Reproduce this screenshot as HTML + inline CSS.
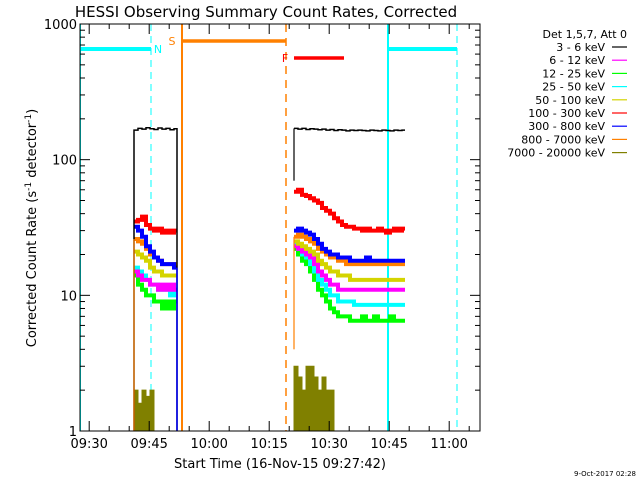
<!DOCTYPE html>
<html><head><meta charset="utf-8"><style>
body{margin:0;background:#fff}
svg{display:block;font-family:"DejaVu Sans","Liberation Sans",sans-serif}
</style></head><body>
<svg id="chart" width="640" height="480" viewBox="0 0 640 480" xmlns="http://www.w3.org/2000/svg">
<rect width="640" height="480" fill="#fff"/>
<text x="266" y="17" text-anchor="middle" font-size="15">HESSI Observing Summary Count Rates, Corrected</text>
<g id="grid"></g>
<g id="marks"></g>
<g id="axes"></g>
<g id="legend"></g>
<text x="280" y="468" text-anchor="middle" font-size="13">Start Time (16-Nov-15 09:27:42)</text>
<text transform="translate(36,228) rotate(-90)" text-anchor="middle" font-size="13">Corrected Count Rate (s<tspan dy="-5" font-size="9">-1</tspan><tspan dy="5"> detector</tspan><tspan dy="-5" font-size="9">-1</tspan><tspan dy="5">)</tspan></text>
<text x="636" y="476" text-anchor="end" font-size="7">9-Oct-2017 02:28</text>
</svg>
<script>
// time in minutes since 09:27:42
const seg1T = [13.5,14.5,15.5,16.5,17.5,18.5,19.5,20.5,21.5,22.5,23.5];
const seg1End = 24.25;
const seg2T = [53.5,54.5,55.5,56.5,57.5,58.5,59.5,60.5,61.5,62.5,63.5,64.5,65.5,66.5,67.5,68.5,69.5,70.5,71.5,72.5,73.5,74.5,75.5,76.5,77.5,78.5,79.5,80.5];
const seg2End = 81.25;
const seriesNames = ["3 - 6 keV","6 - 12 keV","12 - 25 keV","25 - 50 keV","50 - 100 keV","100 - 300 keV","300 - 800 keV","800 - 7000 keV","7000 - 20000 keV"];
const seriesColors = ["#000000","#ff00ff","#00ff00","#00ffff","#d4d400","#ff0000","#0000ff","#ff8000","#808000"];
const s1Black = [165,170,168,172,169,167,171,168,170,166,169];
const s1Mag = [15,14,13,13,12,12,11,12,11,12,11];
const s1Green = [14,12,11,10,10,9,9,8,9,8,9];
const s1Cyan = [16,15,14,13,12,12,11,11,11,10,11];
const s1Yellow = [21,20,19,18,16,15,15,14,14,14,14];
const s1Red = [35,36,38,33,31,30,31,29,30,29,30];
const s1Blue = [32,30,27,23,21,19,18,17,17,17,16];
const s1Orange = [26,25,24,22,20,19,18,17,17,17,17];
const s1Olive = [2,1.6,2,1.8,2,0.5,0.5,0.5,0.5,0.5,0.5];
const s2Black = [170,168,170,167,169,168,166,168,165,167,164,166,165,163,165,164,165,164,163,165,164,163,165,164,163,165,164,165];
const s2Mag = [23,22,21,20,19,17,15,14,13,12,12,11,11,11,11,11,11,11,11,11,11,11,11,11,11,11,11,11];
const s2Green = [22,20,18,17,15,13,11,10,9,8,7.5,7,7,7,6.5,6.5,6.5,7,6.5,6.5,7,6.5,6.5,6.5,7,6.5,6.5,6.5];
const s2Cyan = [24,22,20,19,17,15,13,12,11,10,10,9,9,9,9,8.5,8.5,8.5,8.5,8.5,8.5,8.5,8.5,8.5,8.5,8.5,8.5,8.5];
const s2Yellow = [25,24,23,22,21,20,18,17,16,15,15,14,14,14,13,13,13,13,13,13,13,13,13,13,13,13,13,13];
const s2Red = [58,60,55,54,52,50,48,44,42,40,37,35,33,32,32,31,31,30,31,30,30,31,30,29,30,31,30,31];
const s2Blue = [30,31,30,29,28,26,24,22,21,20,20,19,19,19,18,18,18,18,19,18,18,18,18,18,18,18,18,18];
const s2Orange = [27,28,27,26,25,24,22,21,20,19,19,18,18,17,17,17,17,17,17,17,17,17,17,17,17,17,17,17];
const s2Olive = [3,2.5,2,3,3,2.5,2,2.5,2,2,0.5,0.5,0.5,0.5,0.5,0.5,0.5,0.5,0.5,0.5,0.5,0.5,0.5,0.5,0.5,0.5,0.5,0.5];
const yTickVals = [1,10,100,1000];
const yTickLabels = ["1","10","100","1000"];
const xTickMins = [2.3,17.3,32.3,47.3,62.3,77.3,92.3];
const xTickLabels = ["09:30","09:45","10:00","10:15","10:30","10:45","11:00"];

const L=80,R=480,T=24,B=431,tMax=100;
const x = t => L + (t/tMax)*(R-L);
const y = v => B - (Math.log10(Math.max(v,0.3)))/3*(B-T);
const NS="http://www.w3.org/2000/svg";
function mk(tag,attrs,parent){const e=document.createElementNS(NS,tag);for(const k in attrs)e.setAttribute(k,attrs[k]);parent.appendChild(e);return e;}
const marks=document.getElementById('marks'),axes=document.getElementById('axes'),grid=document.getElementById('grid'),legend=document.getElementById('legend');
const defs=mk('defs',{},marks);
const cp=mk('clipPath',{id:'pc'},defs);mk('rect',{x:L,y:T,width:R-L,height:B-T},cp);
const clipG=mk('g',{'clip-path':'url(#pc)'},marks);

function line(x1,y1,x2,y2,c,w,dash,name){const e=mk('line',{x1,y1,x2,y2,stroke:c,'stroke-width':w},clipG);if(dash)e.setAttribute('stroke-dasharray',dash);

}
line(x(0),T,x(0),B,'#00ffff',2,null,'night-end-line');
line(x(17.75),T,x(17.75),B,'#00ffff',1,'7,5','night-start-dashed');
line(x(77),T,x(77),B,'#00ffff',2,null,'night-start-line-2');
line(x(94.25),T,x(94.25),B,'#00ffff',1,'7,5','night-end-dashed-2');
line(x(25.5),T,x(25.5),B,'#ff8000',2,null,'saa-start-line');
line(x(51.5),T,x(51.5),B,'#ff8000',1.5,'8,6','saa-end-dashed');
line(x(0),49,x(17.75),49,'#00ffff',4,null,'night-bar-1');
line(x(77),49,x(94.25),49,'#00ffff',4,null,'night-bar-2');
line(x(25.5),41,x(51.5),41,'#ff8000',3.5,null,'saa-bar');
line(x(53.5),58,x(66),58,'#ff0000',3.5,null,'flare-bar');
[['N',158,53,'#00ffff','night-label'],['S',172,45,'#ff8000','saa-label'],['F',285,62,'#ff0000','flare-label']].forEach(a=>{const e=mk('text',{x:a[1],y:a[2],fill:a[3],'font-size':11,'text-anchor':'middle'},marks);e.textContent=a[0];

});

function seg(T_,end,vals,dropStart,dropEnd){let d=dropStart?`M${x(T_[0])},${y(0.5)}`:`M${x(T_[0])},${y(vals[0])}`;for(let i=0;i<vals.length;i++){d+=` L${x(T_[i])},${y(vals[i])} L${(i+1<T_.length?x(T_[i+1]):x(end))},${y(vals[i])}`;}if(dropEnd)d+=` L${x(end)},${y(0.5)}`;return d;}
const order=[8,2,3,1,4,7,6,5,0];
const s1=[s1Black,s1Mag,s1Green,s1Cyan,s1Yellow,s1Red,s1Blue,s1Orange,s1Olive];
const s2=[s2Black,s2Mag,s2Green,s2Cyan,s2Yellow,s2Red,s2Blue,s2Orange,s2Olive];
order.forEach(i=>{
  let p;
  if(i===8){
    p=mk('path',{d:seg(seg1T,seg1End,s1[i],true,true)+'Z '+seg(seg2T,seg2End,s2[i],true,true)+'Z',fill:seriesColors[i],stroke:seriesColors[i],'stroke-width':1},clipG);
  } else {
    const w=i===0?1.5:4;
    const d=i===0?seg(seg1T,seg1End,s1[i],true,true)+' '+seg(seg2T,seg2End,s2[i],false,false):seg(seg1T,seg1End,s1[i],false,false)+' '+seg(seg2T,seg2End,s2[i],false,false);
    p=mk('path',{d:d,fill:'none',stroke:seriesColors[i],'stroke-width':w},clipG);
  }
  
  
});
line(x(13.5),y(s1Orange[0]),x(13.5),B,'#ff8000',1.2,null,'seg1-start-edge');
line(x(seg1End),y(s1Blue[10]),x(seg1End),B,'#0000ff',1.5,null,'seg1-end-edge');
line(x(53.5),y(s2Orange[0]),x(53.5),y(4),'#ff8000',1.2,null,'seg2-start-edge');
line(x(53.5),y(s2Black[0]),x(53.5),y(70),'#000000',1.2,null,'seg2-black-start-edge');

const fr=mk('rect',{x:L,y:T,width:R-L,height:B-T,fill:'none',stroke:'#000','stroke-width':1},axes);


for(let d=0;d<3;d++)for(let m=1;m<10;m++){const v=Math.pow(10,d)*m,yy=y(v),len=m===1?10:5;
mk('line',{x1:L,y1:yy,x2:L+len,y2:yy,stroke:'#000'},axes);mk('line',{x1:R,y1:yy,x2:R-len,y2:yy,stroke:'#000'},axes);}
yTickVals.forEach((v,i)=>{const e=mk('text',{x:L-3,y:y(v)+5,'text-anchor':'end','font-size':13},axes);e.textContent=yTickLabels[i];

});
for(let t=2.3-10;t<=tMax;t+=5){if(t<0)continue;const xx=x(t),maj=Math.abs(((t-2.3)/15)-Math.round((t-2.3)/15))<0.01,len=maj?10:5;
mk('line',{x1:xx,y1:B,x2:xx,y2:B-len,stroke:'#000'},axes);mk('line',{x1:xx,y1:T,x2:xx,y2:T+len,stroke:'#000'},axes);}
xTickMins.forEach((t,i)=>{const e=mk('text',{x:x(t),y:B+17,'text-anchor':'middle','font-size':13},axes);e.textContent=xTickLabels[i];

});

const lh=mk('text',{x:627,y:38,'text-anchor':'end','font-size':11},legend);lh.textContent='Det 1,5,7, Att 0';


seriesNames.forEach((n,i)=>{const yy=51+i*13.2;
const t=mk('text',{x:605,y:yy,'text-anchor':'end','font-size':11},legend);t.textContent=n;


mk('line',{x1:612,y1:yy-4,x2:627,y2:yy-4,stroke:seriesColors[i],'stroke-width':1.2},legend);});
</script>
</body></html>
